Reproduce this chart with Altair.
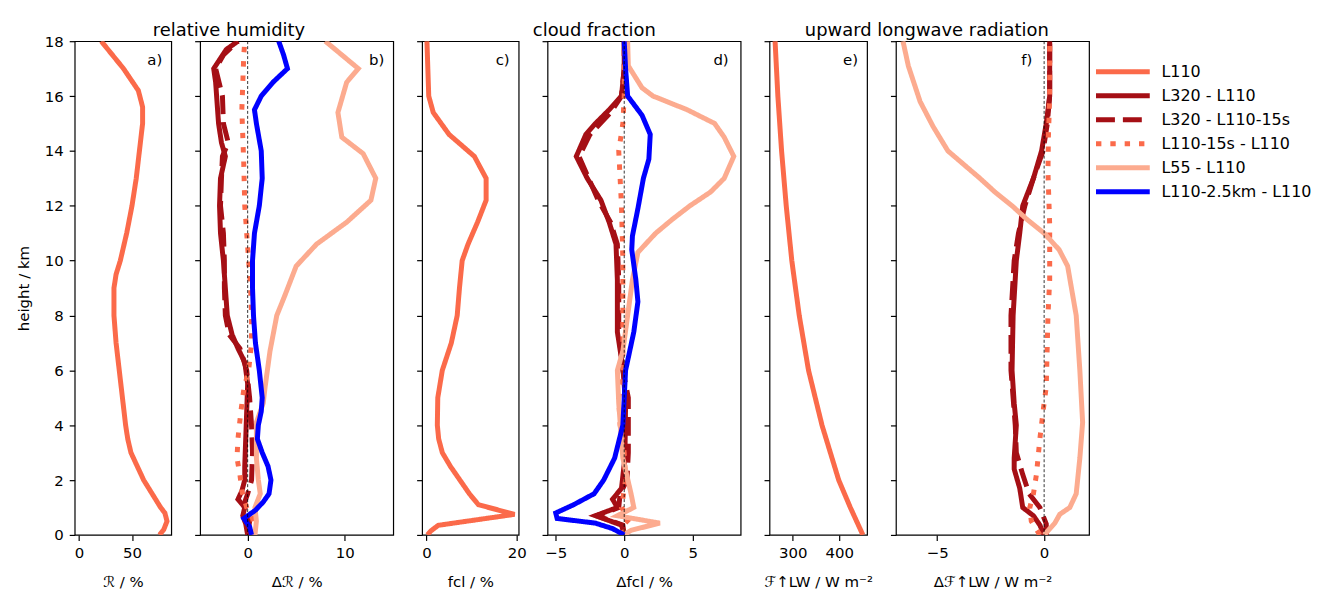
import altair as alt
import pandas as pd

FONT = "DejaVu Sans"

SERIES = ["L110", "L320 - L110", "L320 - L110-15s", "L110-15s - L110", "L55 - L110", "L110-2.5km - L110"]
COLORS = ["#fb6a4a", "#a50f15", "#a50f15", "#fb6a4a", "#fcab8f", "#0000ff"]
DASHES = [[1, 0], [1, 0], [19, 8], [5.4, 9], [1, 0], [1, 0]]

# ---- panel a: relative humidity L110 (%)
A_H = [0, 0.2, 0.5, 0.8, 1.0, 1.5, 2.0, 2.5, 3.0, 3.5, 4.0, 5.0, 6.0, 7.0, 8.0, 9.0, 9.5, 10.0, 11.0, 12.0, 13.0, 14.0, 15.0, 15.6, 16.2, 17.0, 18.0]
A_L110 = [76, 80, 83, 81, 77, 69, 61, 55, 49, 46, 44, 41, 38, 35, 33, 33, 35, 39, 45, 50, 54, 57, 60, 60, 56, 42, 21]

# ---- panel b: delta relative humidity (%)
B_H_L320 = [0.0, 0.4, 0.7, 1.0, 1.3, 1.6, 2.0, 2.5, 3.5, 4.5, 5.5, 6.3, 6.8, 7.3, 8.0, 9.0, 10.0, 11.0, 12.0, 13.0, 13.8, 14.3, 15.0, 16.0, 16.5, 17.0, 17.7, 18.0]
B_L320 = [0.0, -0.2, -0.5, -0.3, -1.0, -0.6, -0.3, -0.3, -0.2, -0.1, 0.0, -0.3, -1.0, -1.6, -2.1, -2.3, -2.5, -2.8, -2.9, -2.8, -2.3, -2.7, -3.0, -3.2, -3.3, -3.5, -2.2, -1.0]
B_H_L320S = [0.0, 0.5, 0.9, 1.2, 1.5, 2.0, 3.0, 4.0, 5.0, 6.0, 6.8, 7.3, 8.0, 9.0, 10.0, 11.0, 12.0, 13.0, 13.8, 14.3, 15.0, 16.0, 17.0, 17.5, 18.0]
B_L320S = [0.0, 0.2, -0.2, -0.3, 0.0, 0.4, 0.5, 0.4, 0.2, -0.1, -0.8, -1.9, -2.3, -2.4, -2.4, -2.5, -2.8, -2.7, -2.6, -2.0, -2.5, -2.6, -3.3, -2.5, -1.0]
B_H_S15 = [0.0, 0.3, 0.6, 1.0, 1.6, 2.2, 2.8, 3.5, 4.5, 5.3, 6.0, 7.0, 8.0, 9.0, 10.5, 12.0, 13.5, 14.5, 15.5, 16.5, 17.5, 18.0]
B_S15 = [0.4, 0.7, 0.5, -0.1, -0.6, -0.8, -1.1, -1.0, -0.7, -0.4, 0.1, 0.4, 0.4, 0.3, 0.0, -0.3, -0.4, -0.5, -0.6, -0.5, -0.4, -0.3]
B_H_L55 = [0.0, 0.5, 1.0, 1.5, 2.0, 2.8, 3.5, 4.1, 4.8, 5.4, 6.7, 8.0, 8.7, 9.8, 10.6, 11.4, 12.2, 13.0, 13.9, 14.5, 15.4, 16.5, 17.0, 18.0]
B_L55 = [0.75, 0.9, 0.75, 1.3, 1.1, 0.9, 0.9, 0.9, 1.6, 1.8, 2.3, 3.0, 3.8, 5.0, 7.1, 10.2, 12.7, 13.2, 11.9, 9.7, 9.3, 10.2, 11.4, 8.0]
B_H_KM = [0.0, 0.3, 0.6, 0.9, 1.2, 1.5, 2.0, 2.5, 3.0, 3.5, 4.0, 4.5, 5.0, 6.0, 7.0, 8.0, 9.0, 10.0, 11.0, 12.0, 13.0, 14.0, 15.0, 15.5, 16.0, 16.5, 17.0, 17.5, 18.0]
B_KM = [0.4, 0.2, -0.4, 0.8, 1.6, 2.2, 2.4, 2.1, 1.5, 1.0, 1.1, 1.4, 1.5, 1.2, 0.8, 0.6, 0.5, 0.5, 0.7, 1.2, 1.5, 1.4, 0.9, 0.7, 1.4, 2.6, 4.1, 3.7, 3.2]

# ---- panel c: cloud fraction L110 (%)
C_H = [0, 0.15, 0.35, 0.75, 1.1, 1.5, 2.0, 2.5, 3.0, 3.5, 4.0, 5.0, 6.0, 7.0, 8.0, 9.0, 10.0, 10.6, 11.4, 12.2, 13.0, 13.8, 14.6, 15.4, 16.0, 17.0, 18.0]
C_L110 = [0.2, 1.0, 2.6, 19.5, 11.5, 9.5, 7.4, 5.3, 3.5, 2.7, 2.4, 2.5, 3.5, 5.5, 6.8, 7.3, 7.9, 9.2, 11.3, 13.2, 13.2, 10.6, 5.0, 1.5, 0.5, 0.3, 0.1]

# ---- panel d: delta cloud fraction (%)
D_H_L320 = [0.0, 0.36, 0.7, 1.0, 1.3, 1.7, 2.8, 4.8, 6.1, 7.4, 9.3, 10.6, 11.4, 12.2, 13.0, 13.8, 14.6, 15.0, 15.5, 16.0, 17.0, 18.0]
D_L320 = [0.0, -0.2, -2.1, -0.5, -0.85, -0.2, 0.05, 0.1, -0.1, -0.5, -0.5, -0.6, -1.1, -1.7, -2.7, -3.5, -2.8, -2.1, -1.1, -0.2, 0.0, 0.0]
D_H_L320S = [0.0, 0.36, 0.7, 1.0, 1.5, 2.0, 3.0, 4.0, 5.0, 6.0, 7.4, 9.3, 10.6, 11.4, 12.2, 13.0, 13.8, 14.6, 15.4, 16.0, 17.0, 18.0]
D_L320S = [0.0, -0.1, -2.0, -0.4, -0.3, 0.2, 0.3, 0.3, 0.3, -0.1, -0.4, -0.4, -0.5, -1.0, -1.9, -2.6, -3.3, -2.5, -1.0, -0.2, 0.0, 0.0]
D_H_S15 = [0.0, 0.3, 0.6, 1.0, 2.0, 3.0, 4.0, 5.0, 6.0, 8.0, 10.0, 12.0, 13.0, 14.0, 15.0, 16.0, 18.0]
D_S15 = [0.0, -0.2, 0.4, -0.2, 0.1, 0.0, -0.3, -0.4, -0.1, -0.1, -0.1, -0.2, -0.3, -0.4, -0.1, 0.0, 0.0]
D_H_L55 = [0.0, 0.17, 0.43, 0.7, 1.0, 1.5, 2.8, 4.8, 6.0, 6.7, 8.0, 9.3, 10.3, 11.0, 11.5, 12.0, 12.5, 13.0, 13.8, 14.5, 15.0, 15.5, 16.0, 16.3, 17.1, 18.0]
D_L55 = [0.0, 0.5, 2.6, -0.5, 0.7, 0.5, -0.1, -0.4, -0.5, -0.1, 0.25, 0.6, 1.0, 2.3, 3.5, 4.8, 6.3, 7.3, 8.0, 7.3, 6.6, 4.6, 2.1, 1.3, 0.3, 0.25]
D_H_KM = [0.0, 0.23, 0.43, 0.6, 0.8, 1.1, 1.5, 2.0, 2.8, 4.0, 6.0, 7.4, 8.5, 9.3, 10.4, 10.9, 11.9, 13.0, 13.7, 14.6, 15.3, 16.0, 17.0, 18.0]
D_KM = [0.0, -0.85, -2.1, -4.9, -5.0, -3.7, -2.2, -1.5, -0.7, -0.1, 0.1, 0.7, 1.0, 0.85, 0.55, 0.6, 1.0, 1.4, 1.8, 1.9, 1.3, 0.25, 0.1, 0.0]

# ---- panel e: upward longwave radiation L110 (W m-2)
E_H = [0, 1, 2, 4, 6, 8, 10, 12, 14, 16, 18]
E_L110 = [451, 424, 399, 363, 334, 314, 298, 286, 276, 268, 262]

# ---- panel f: delta upward longwave radiation (W m-2)
F_H_L320 = [0.0, 0.36, 0.7, 1.0, 1.7, 2.4, 2.8, 4.0, 4.8, 6.0, 8.0, 10.0, 11.0, 12.0, 13.0, 14.0, 15.0, 16.0, 18.0]
F_L320 = [0.0, -0.2, -0.5, -1.0, -1.14, -1.4, -1.4, -1.3, -1.4, -1.5, -1.45, -1.3, -1.14, -1.0, -0.5, -0.12, 0.1, 0.26, 0.26]
F_H_L320S = [0.0, 0.4, 1.0, 1.5, 2.2, 3.0, 4.0, 5.0, 6.0, 8.0, 10.0, 11.0, 12.0, 13.0, 14.0, 15.0, 16.0, 18.0]
F_L320S = [0.1, 0.1, -0.2, -0.7, -1.0, -1.3, -1.35, -1.45, -1.55, -1.55, -1.4, -1.2, -0.9, -0.5, -0.05, 0.15, 0.26, 0.26]
F_H_S15 = [0.0, 0.5, 1.0, 1.5, 2.2, 3.5, 4.5, 5.4, 8.0, 9.3, 11.3, 13.2, 14.5, 16.0, 18.0]
F_S15 = [-0.2, -0.6, -0.67, -0.5, -0.36, -0.2, -0.05, 0.1, 0.18, 0.26, 0.26, 0.18, 0.2, 0.26, 0.26]
F_H_L55 = [0.0, 0.43, 0.75, 1.0, 1.5, 2.8, 4.1, 6.0, 8.0, 9.8, 10.4, 11.0, 11.5, 12.0, 12.5, 13.0, 14.0, 14.9, 15.8, 17.1, 18.0]
F_L55 = [0.0, 0.5, 0.73, 1.2, 1.5, 1.67, 1.8, 1.67, 1.5, 1.1, 0.7, 0.0, -0.8, -1.5, -2.3, -3.0, -4.5, -5.2, -5.8, -6.35, -6.6]

Y_TICKS = list(range(0, 19, 2))
PLOT_H = 496


def rows(pairs):
    frames = []
    for name, h, v in pairs:
        frames.append(pd.DataFrame({"series": name, "h": h, "v": v}))
    return pd.concat(frames, ignore_index=True)


color_enc = alt.Color("series:N", scale=alt.Scale(domain=SERIES, range=COLORS), legend=None)
dash_enc = alt.StrokeDash("series:N", scale=alt.Scale(domain=SERIES, range=DASHES), legend=None)


def panel(df, domain, ticks, xtitle, letter, width, first=False, zero=False, title=None, dx=0,
          letter_inset=9):
    x_enc = alt.X("v:Q", scale=alt.Scale(domain=domain, nice=False, zero=False),
                  axis=alt.Axis(values=ticks, format="d", title=xtitle))
    if first:
        y_enc = alt.Y("h:Q", scale=alt.Scale(domain=[0, 18], nice=False),
                      axis=alt.Axis(values=Y_TICKS, format="d", title="height / km"))
    else:
        y_enc = alt.Y("h:Q", scale=alt.Scale(domain=[0, 18], nice=False),
                      axis=alt.Axis(values=Y_TICKS, labels=False), title=None)
    lines = alt.Chart(df).mark_line(strokeWidth=5, clip=True).encode(
        x=x_enc, y=y_enc, color=color_enc, strokeDash=dash_enc, order=alt.Order("h:Q"))
    layers = [lines]
    if zero:
        layers.append(alt.Chart(pd.DataFrame({"v": [0]})).mark_rule(
            color="black", strokeWidth=0.8, strokeDash=[3, 2]).encode(x=x_enc))
    layers.append(alt.Chart(pd.DataFrame({"t": [letter]})).mark_text(
        align="right", baseline="middle", fontSize=15, font=FONT, color="black").encode(
        x=alt.value(width - letter_inset), y=alt.value(19), text="t:N"))
    ch = alt.layer(*layers)
    if title:
        ch = ch.properties(width=width, height=PLOT_H,
                           title=alt.TitleParams(text=title, dx=dx, anchor="middle", fontSize=18,
                                                 font=FONT, fontWeight="normal", color="black",
                                                 baseline="alphabetic", offset=-13))
    else:
        ch = ch.properties(width=width, height=PLOT_H)
    return ch


pa = panel(rows([(SERIES[0], A_H, A_L110)]), [-4, 87], [0, 50], "ℛ / %", "a)", 97, first=True)
pb = panel(rows([(SERIES[1], B_H_L320, B_L320), (SERIES[2], B_H_L320S, B_L320S),
                 (SERIES[3], B_H_S15, B_S15), (SERIES[4], B_H_L55, B_L55),
                 (SERIES[5], B_H_KM, B_KM)]),
           [-4.9, 15.0], [0, 10], "Δℛ / %", "b)", 194, zero=True,
           title="relative humidity", dx=-68)
pc = panel(rows([(SERIES[0], C_H, C_L110)]), [-0.97, 20.4], [0, 20], "fcl / %", "c)", 97)
pd_ = panel(rows([(SERIES[1], D_H_L320, D_L320), (SERIES[2], D_H_L320S, D_L320S),
                  (SERIES[3], D_H_S15, D_S15), (SERIES[4], D_H_L55, D_L55),
                  (SERIES[5], D_H_KM, D_KM)]),
            [-5.6, 8.5], [-5, 0, 5], "Δfcl / %", "d)", 194, zero=True,
            title="cloud fraction", dx=-50, letter_inset=12)
pe = panel(rows([(SERIES[0], E_H, E_L110)]), [250, 460], [300, 400], "ℱ↑LW / W m⁻²", "e)", 98)
pf = panel(rows([(SERIES[1], F_H_L320, F_L320), (SERIES[2], F_H_L320S, F_L320S),
                 (SERIES[3], F_H_S15, F_S15), (SERIES[4], F_H_L55, F_L55)]),
           [-6.93, 2.1], [-5, 0], "Δℱ↑LW / W m⁻²", "f)", 194, zero=True,
           title="upward longwave radiation", dx=-66, letter_inset=57)

leg_df = pd.DataFrame({"series": SERIES})
leg_y = alt.Y("series:N", scale=alt.Scale(type="point", domain=SERIES, range=[30.7, 151.3], padding=0),
              axis=None)
leg_rules = alt.Chart(leg_df).mark_rule(strokeWidth=5).encode(
    x=alt.value(-22), x2=alt.value(32), y=leg_y, color=color_enc, strokeDash=dash_enc)
leg_text = alt.Chart(leg_df).mark_text(align="left", baseline="middle", fontSize=16,
                                       font=FONT, color="black").encode(
    x=alt.value(43.7), y=leg_y, text="series:N")
legend = alt.layer(leg_rules, leg_text).properties(
    width=160, height=PLOT_H, view=alt.ViewBackground(stroke="transparent"))

chart = alt.hconcat(pa, pb, pc, pd_, pe, pf, legend, spacing=29, bounds="flush").properties(
    padding={"left": 7, "top": 11, "right": 2, "bottom": 0}
).configure(font=FONT).configure_view(
    stroke="black", strokeWidth=1.2
).configure_axis(
    labelFont=FONT, titleFont=FONT, labelFontSize=15, titleFontSize=15,
    titleFontWeight="normal", labelColor="black", titleColor="black",
    tickColor="black", tickWidth=1.2, tickSize=5.5, domain=False, grid=False
).configure_axisX(
    labelPadding=5, titlePadding=14
).configure_axisY(
    labelPadding=6, titlePadding=13
)

chart.save("out.html", embed_options={"renderer": "svg", "actions": False})
